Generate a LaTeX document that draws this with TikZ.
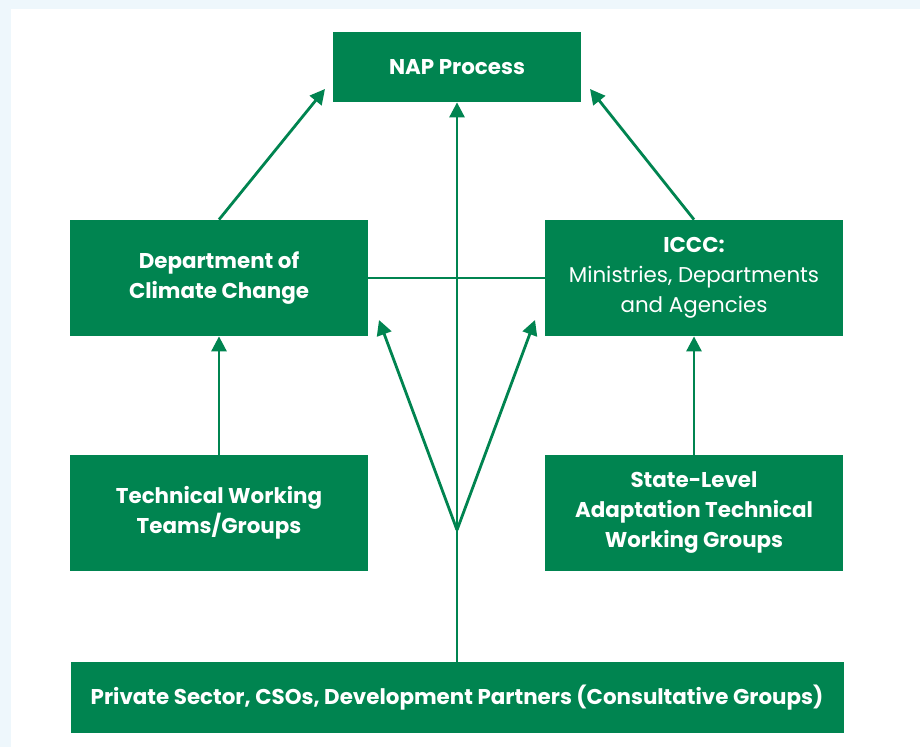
\documentclass[tikz,border=0pt]{standalone}
\usepackage{fontspec}
\setmainfont{Poppins}
\usetikzlibrary{arrows.meta}
\definecolor{napgreen}{RGB}{0,132,80}
\definecolor{panelbg}{RGB}{238,247,252}

\begin{document}
\begin{tikzpicture}[x=0.5pt, y=-0.5pt,
      every node/.style = {shape=rectangle, fill=napgreen, text=white,
        align=center, inner sep=0pt, font=\fontsize{10.7}{15}\selectfont\bfseries},
      box/.style = {minimum width=149pt, minimum height=58pt},
      link/.style = {draw=napgreen, line width=1.4pt},
      arr/.style = {link, -{Triangle[length=7.5pt,width=7.5pt]}}]
  % panel
  \fill[panelbg] (0,0) rectangle (920,747);
  \fill[white] (11,9) rectangle (920,747);
  % boxes
  \node[minimum width=124pt, minimum height=35pt] (nap) at (457,67) {NAP Process};
  \node[box] (dcc) at (219,278) {Department of\\Climate Change};
  \node[box] (iccc) at (694,278)
    {ICCC:\\{\mdseries Ministries, Departments}\\{\mdseries and Agencies}};
  \node[box] (twg) at (219,513) {Technical Working\\Teams/Groups};
  \node[box] (sltwg) at (694,513) {State-Level\\Adaptation Technical\\Working Groups};
  \node[minimum width=386.5pt, minimum height=35.5pt] (priv) at (457,697.5)
    {Private Sector, CSOs, Development Partners (Consultative Groups)};
  % arrow ends
  \coordinate (napL) at (325,89);
  \coordinate (napR) at (590,89);
  \coordinate (fork) at (457,530);
  \coordinate (forkL) at (379,320);
  \coordinate (forkR) at (535,320);
  % connectors
  \draw[arr] (priv) -- (nap);
  \draw[link] (dcc) -- (iccc);
  \draw[arr] (fork) -- (forkL);
  \draw[arr] (fork) -- (forkR);
  \draw[arr] (dcc.north) -- (napL);
  \draw[arr] (iccc.north) -- (napR);
  \draw[arr] (twg) -- (dcc);
  \draw[arr] (sltwg) -- (iccc);
\end{tikzpicture}
\end{document}
